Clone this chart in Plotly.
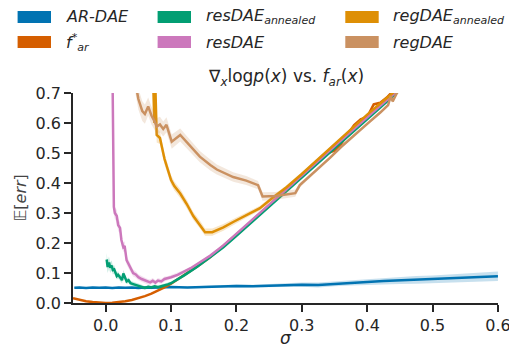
import plotly.graph_objects as go

# ---------------- data ----------------
sig_ar = [-0.048, -0.04, -0.03, -0.02, -0.01, 0.0, 0.01, 0.02, 0.03, 0.04, 0.05, 0.06, 0.07, 0.08, 0.09, 0.1,
          0.125, 0.15, 0.175, 0.2, 0.225, 0.25, 0.275, 0.3, 0.325, 0.35, 0.375, 0.4, 0.425, 0.45, 0.475, 0.5,
          0.525, 0.55, 0.575, 0.6]
val_ar = [0.051, 0.052, 0.050, 0.052, 0.051, 0.052, 0.050, 0.052, 0.051, 0.052, 0.050, 0.052, 0.051, 0.052, 0.052, 0.053,
          0.052, 0.054, 0.055, 0.057, 0.056, 0.058, 0.059, 0.061, 0.060, 0.064, 0.067, 0.070, 0.073, 0.075, 0.077, 0.079,
          0.081, 0.083, 0.087, 0.089]
band_ar = [0.002, 0.002, 0.002, 0.002, 0.002, 0.002, 0.002, 0.002, 0.002, 0.002, 0.002, 0.002, 0.002, 0.002, 0.003, 0.003,
           0.003, 0.004, 0.004, 0.005, 0.005, 0.006, 0.006, 0.007, 0.008, 0.008, 0.009, 0.010, 0.011, 0.012, 0.013, 0.013,
           0.014, 0.015, 0.016, 0.016]

sig_far = [-0.05, -0.04, -0.03, -0.02, -0.01, 0.0, 0.01, 0.02, 0.03, 0.04, 0.05, 0.06, 0.07, 0.08, 0.09, 0.1,
           0.12, 0.14, 0.16, 0.18, 0.2, 0.22, 0.24, 0.26, 0.28, 0.30, 0.31, 0.32, 0.33, 0.34, 0.35, 0.36, 0.37,
           0.38, 0.39, 0.40, 0.41, 0.42, 0.43, 0.44, 0.45]
val_far = [0.016, 0.010, 0.006, 0.003, 0.001, 0.000, 0.001, 0.003, 0.006, 0.010, 0.016, 0.023, 0.031, 0.041, 0.052, 0.064,
           0.092, 0.122, 0.153, 0.19, 0.228, 0.267, 0.306, 0.345, 0.385, 0.424, 0.445, 0.46, 0.485, 0.50, 0.508, 0.53,
           0.56, 0.593, 0.612, 0.62, 0.662, 0.668, 0.685, 0.71, 0.73]

sig_ga = [0.0015, 0.003, 0.005, 0.007, 0.009, 0.011, 0.013, 0.015, 0.017, 0.019, 0.021, 0.023, 0.025, 0.027, 0.029,
          0.032, 0.035, 0.038, 0.042, 0.046, 0.05, 0.055, 0.06, 0.065, 0.07, 0.075, 0.08, 0.085, 0.09, 0.095, 0.1,
          0.11, 0.12, 0.14, 0.16, 0.18, 0.2, 0.22, 0.24, 0.26, 0.28, 0.3, 0.32, 0.34, 0.36, 0.38, 0.4, 0.42, 0.44, 0.45]
val_ga = [0.145, 0.12, 0.135, 0.118, 0.125, 0.11, 0.112, 0.1, 0.09, 0.094, 0.086, 0.083, 0.076, 0.098, 0.088,
          0.072, 0.076, 0.066, 0.063, 0.06, 0.058, 0.054, 0.05, 0.054, 0.052, 0.056, 0.053, 0.056, 0.058, 0.062, 0.066,
          0.079, 0.092, 0.121, 0.152, 0.186, 0.224, 0.263, 0.301, 0.34, 0.379, 0.418, 0.457, 0.496, 0.535, 0.574,
          0.613, 0.652, 0.69, 0.71]
band_ga = [0.022, 0.02, 0.02, 0.018, 0.017, 0.015, 0.014, 0.013, 0.012, 0.012, 0.011, 0.011, 0.010, 0.012, 0.010,
           0.009, 0.009, 0.008, 0.008, 0.007, 0.007, 0.007, 0.006, 0.006, 0.006, 0.006, 0.006, 0.006, 0.006, 0.006, 0.006,
           0.006, 0.005, 0.005, 0.005, 0.004, 0.004, 0.004, 0.004, 0.004, 0.004, 0.004, 0.004, 0.004, 0.004, 0.004,
           0.004, 0.004, 0.004, 0.004]

sig_rd = [0.0105, 0.0112, 0.0118, 0.0125, 0.014, 0.017, 0.019, 0.022, 0.024, 0.027, 0.029, 0.032, 0.035, 0.038,
          0.042, 0.046, 0.05, 0.055, 0.06, 0.065, 0.068, 0.072, 0.076, 0.08, 0.085, 0.09, 0.095, 0.1, 0.11, 0.12,
          0.13, 0.14, 0.16, 0.18, 0.2, 0.22, 0.24, 0.26, 0.28, 0.3, 0.32, 0.34, 0.36, 0.38, 0.4, 0.42, 0.44, 0.45]
val_rd = [0.75, 0.55, 0.40, 0.32, 0.30, 0.29, 0.26, 0.25, 0.21, 0.186, 0.19, 0.142, 0.13, 0.115,
          0.10, 0.095, 0.086, 0.08, 0.075, 0.07, 0.069, 0.074, 0.068, 0.075, 0.072, 0.08, 0.082, 0.086, 0.094, 0.104,
          0.116, 0.13, 0.158, 0.192, 0.23, 0.269, 0.308, 0.347, 0.386, 0.426, 0.465, 0.503, 0.542, 0.58, 0.62,
          0.658, 0.695, 0.715]
band_rd = [0.03, 0.03, 0.03, 0.025, 0.02, 0.02, 0.02, 0.018, 0.018, 0.016, 0.016, 0.014, 0.013, 0.012,
           0.012, 0.011, 0.010, 0.010, 0.009, 0.009, 0.009, 0.009, 0.008, 0.008, 0.008, 0.008, 0.007, 0.007, 0.006, 0.006,
           0.005, 0.005, 0.004, 0.004, 0.004, 0.004, 0.004, 0.004, 0.004, 0.004, 0.004, 0.004, 0.004, 0.004, 0.004,
           0.004, 0.004, 0.004]

sig_ra = [0.072, 0.0745, 0.076, 0.078, 0.083, 0.09, 0.1, 0.105, 0.114, 0.124, 0.134, 0.144, 0.152, 0.163, 0.18,
          0.195, 0.215, 0.236, 0.255, 0.277, 0.3, 0.32, 0.34, 0.36, 0.38, 0.4, 0.42, 0.44, 0.45]
val_ra = [0.78, 0.60, 0.72, 0.56, 0.55, 0.48, 0.41, 0.39, 0.365, 0.33, 0.29, 0.262, 0.236, 0.236, 0.252,
          0.27, 0.293, 0.316, 0.35, 0.387, 0.43, 0.47, 0.51, 0.55, 0.59, 0.628, 0.665, 0.70, 0.72]
band_ra = [0.03, 0.03, 0.03, 0.025, 0.02, 0.018, 0.016, 0.015, 0.015, 0.014, 0.013, 0.013, 0.012, 0.012, 0.011,
           0.01, 0.009, 0.008, 0.007, 0.006, 0.006, 0.005, 0.005, 0.005, 0.005, 0.005, 0.005, 0.005, 0.005]

sig_rg = [0.045, 0.05, 0.056, 0.06, 0.065, 0.07, 0.075, 0.078, 0.083, 0.088, 0.093, 0.101, 0.114, 0.13, 0.144,
          0.16, 0.17, 0.195, 0.215, 0.233, 0.24, 0.26, 0.29, 0.297, 0.32, 0.343, 0.36, 0.38, 0.40, 0.42, 0.432,
          0.436, 0.439, 0.45]
val_rg = [0.74, 0.68, 0.64, 0.63, 0.655, 0.625, 0.605, 0.588, 0.595, 0.58, 0.594, 0.538, 0.56, 0.52, 0.488,
          0.46, 0.445, 0.42, 0.408, 0.393, 0.355, 0.357, 0.366, 0.393, 0.437, 0.484, 0.52, 0.56, 0.597, 0.635, 0.66,
          0.69, 0.672, 0.72]
band_rg = [0.035, 0.035, 0.033, 0.032, 0.03, 0.03, 0.028, 0.028, 0.026, 0.025, 0.025, 0.024, 0.022, 0.02, 0.019,
           0.018, 0.017, 0.016, 0.015, 0.014, 0.014, 0.013, 0.012, 0.008, 0.006, 0.005, 0.005, 0.005, 0.005, 0.005,
           0.005, 0.005, 0.005, 0.005]

names = ["AR-DAE", "f_ar", "resDAE_annealed", "resDAE", "regDAE_annealed", "regDAE"]
colors = ["#0173B2", "#D55E00", "#029E73", "#CC78BC", "#DE8F05", "#CA9161"]
SUB = '<sub><span style="font-size:11px"><i>%s</i></span></sub>'
legend_labels = ["<i>AR-DAE</i>", "<i>f</i><sup>*</sup>" + SUB % "ar",
                 "<i>resDAE</i>" + SUB % "annealed", "<i>resDAE</i>",
                 "<i>regDAE</i>" + SUB % "annealed", "<i>regDAE</i>"]

x_ticks = [0.0, 0.1, 0.2, 0.3, 0.4, 0.5, 0.6]
x_ticktext = ["0.0", "0.1", "0.2", "0.3", "0.4", "0.5", "0.6"]
y_ticks = [0.0, 0.1, 0.2, 0.3, 0.4, 0.5, 0.6, 0.7]
y_ticktext = ["0.0", "0.1", "0.2", "0.3", "0.4", "0.5", "0.6", "0.7"]

series = [
    (sig_ar, val_ar, band_ar),
    (sig_far, val_far, None),
    (sig_ga, val_ga, band_ga),
    (sig_rd, val_rd, band_rd),
    (sig_ra, val_ra, band_ra),
    (sig_rg, val_rg, band_rg),
]


def rgba(hexc, a):
    h = hexc.lstrip("#")
    return "rgba(%d,%d,%d,%.2f)" % (int(h[0:2], 16), int(h[2:4], 16), int(h[4:6], 16), a)


fig = go.Figure()
for (xs, ys, bs), name, col in zip(series, names, colors):
    if bs is not None:
        up = [y + b for y, b in zip(ys, bs)]
        lo = [y - b for y, b in zip(ys, bs)]
        fig.add_trace(go.Scatter(x=list(xs) + list(xs)[::-1], y=up + lo[::-1], fill="toself",
                                 fillcolor=rgba(col, 0.22), line=dict(width=0), mode="lines",
                                 hoverinfo="skip", showlegend=False))
    fig.add_trace(go.Scatter(x=xs, y=ys, mode="lines", name=name,
                             line=dict(color=col, width=2.5), showlegend=False))

# ---------------- layout geometry (pixels) ----------------
W, H = 509, 352
L, R, T, B = 72.7, 497.7, 93.3, 302.6
pw, ph = R - L, B - T


def px(x):
    return (x - L) / pw


def py(y):
    return (B - y) / ph


FONT = "DejaVu Sans"
INK = "#262626"

shapes = []
annotations = []
# legend (column-major like the reference)
col_x = [17.3, 157.3, 345.0]
row_y = [17.5, 42.5]
order = [(0, 0), (0, 1), (1, 0), (1, 1), (2, 0), (2, 1)]
for i, (c, r) in enumerate(order):
    x0 = col_x[c]
    yc = row_y[r]
    shapes.append(dict(type="rect", xref="paper", yref="paper",
                       x0=px(x0), x1=px(x0 + 33.4), y0=py(yc - 6), y1=py(yc + 6),
                       fillcolor=colors[i], line=dict(width=0), layer="above"))
    annotations.append(dict(xref="paper", yref="paper", x=px(x0 + 46), y=py(yc), xanchor="left",
                            yanchor="middle", text=legend_labels[i], showarrow=False,
                            font=dict(family=FONT, size=16, color=INK)))

annotations.append(dict(xref="paper", yref="paper", x=0.5, y=py(78), xanchor="center", yanchor="middle",
                        text="∇<sub><i>x</i></sub>log<i>p</i>(<i>x</i>) vs. <i>f</i><sub><i>ar</i></sub>(<i>x</i>)",
                        showarrow=False, font=dict(family=FONT, size=17, color=INK)))
annotations.append(dict(xref="paper", yref="paper", x=px(20), y=0.5, xanchor="center", yanchor="middle",
                        text="𝔼[<i>err</i>]", textangle=-90, showarrow=False,
                        font=dict(family=FONT, size=16, color="#444444")))
annotations.append(dict(xref="paper", yref="paper", x=0.5, y=py(337), xanchor="center", yanchor="middle",
                        text="<i>σ</i>", showarrow=False, font=dict(family=FONT, size=17, color=INK)))

axis_common = dict(showline=True, linecolor=INK, linewidth=1.6, ticks="outside", ticklen=7, tickwidth=1.6,
                   tickcolor=INK, showgrid=False, zeroline=False, mirror=False, automargin=False,
                   ticklabeloverflow="allow",
                   tickfont=dict(family=FONT, size=16, color=INK))

fig.update_layout(
    width=W, height=H, autosize=False,
    margin=dict(l=L, r=W - R, t=T, b=H - B, pad=0),
    paper_bgcolor="white", plot_bgcolor="white",
    showlegend=False,
    xaxis=dict(range=[-0.05, 0.6001], tickvals=x_ticks, ticktext=x_ticktext, **axis_common),
    yaxis=dict(range=[0, 0.7001], tickvals=y_ticks, ticktext=y_ticktext, **axis_common),
    shapes=shapes, annotations=annotations,
    font=dict(family=FONT, color=INK),
)

fig.write_html("out.html", config={"displayModeBar": False},
               post_script="document.body.style.margin='0px';")
